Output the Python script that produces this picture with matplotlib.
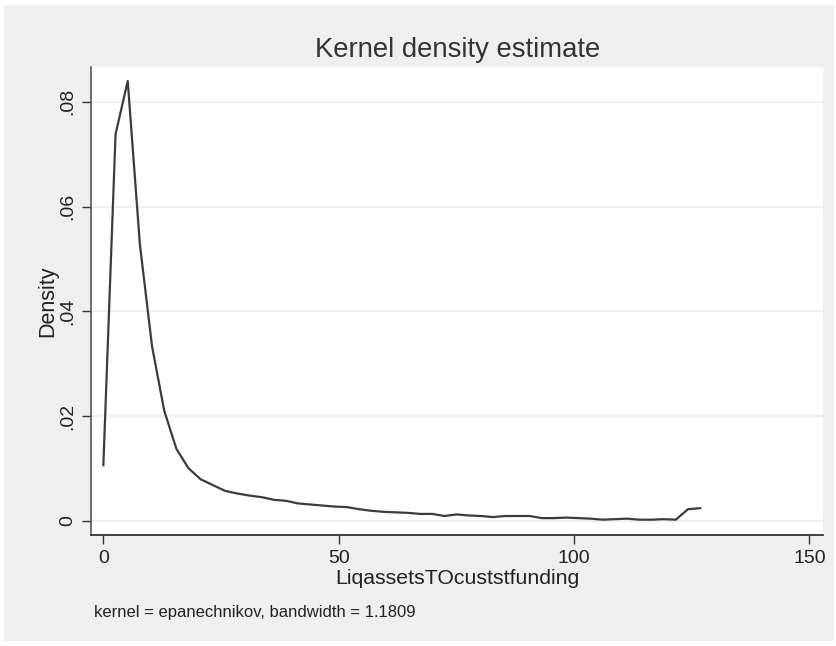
import matplotlib
matplotlib.use("Agg")
import matplotlib.pyplot as plt
from matplotlib.patches import Rectangle

plt.rcParams['font.family'] = ['Liberation Sans', 'DejaVu Sans']

# kdensity evaluation grid and density estimates
grid = [0.00, 2.59, 5.18, 7.76, 10.35, 12.94, 15.53, 18.11, 20.70, 23.29,
        25.88, 28.47, 31.05, 33.64, 36.23, 38.82, 41.40, 43.99, 46.58, 49.17,
        51.76, 54.34, 56.93, 59.52, 62.11, 64.69, 67.28, 69.87, 72.46, 75.04,
        77.63, 80.22, 82.81, 85.40, 87.98, 90.57, 93.16, 95.75, 98.33, 100.92,
        103.51, 106.10, 108.69, 111.27, 113.86, 116.45, 119.04, 121.62, 124.21, 126.80]
density = [0.0106, 0.0738, 0.0840, 0.0528, 0.0333, 0.0210, 0.0137, 0.0100, 0.0079, 0.0068,
           0.0057, 0.0052, 0.0048, 0.0045, 0.0040, 0.0038, 0.0033, 0.0031, 0.0029, 0.0027,
           0.0026, 0.0022, 0.0019, 0.0017, 0.0016, 0.0015, 0.0013, 0.0013, 0.0009, 0.0012,
           0.0010, 0.0009, 0.0007, 0.0009, 0.0009, 0.0009, 0.0005, 0.0005, 0.0006, 0.0005,
           0.0004, 0.0002, 0.0003, 0.0004, 0.0002, 0.0002, 0.0003, 0.0002, 0.0022, 0.0024]

xticks = [0, 50, 100, 150]
yticks = [0, 0.02, 0.04, 0.06, 0.08]
ytick_labels = ['0', '.02', '.04', '.06', '.08']

bg = '#efefef'
ink = '#333333'

fig = plt.figure(figsize=(8.37, 6.46), dpi=100, facecolor='white')
fig.patches.append(Rectangle((4 / 837, 5 / 646), 830 / 837, 636 / 646,
                             transform=fig.transFigure, facecolor=bg,
                             edgecolor='none', zorder=-1))

ax = fig.add_axes([0.1084, 0.1718, 0.8749, 0.7245])
ax.set_zorder(2)
ax.set_facecolor('white')

ax.plot(grid, density, color='#3c3c3c', lw=1.6, zorder=3)

ax.set_xlim(-2.68, 152.9)
ax.set_ylim(-0.00273, 0.08667)
ax.set_xticks(xticks)
ax.set_yticks(yticks)
ax.set_yticklabels(ytick_labels, rotation=90, va='center')

ax.grid(axis='y', color=bg, lw=1.6, zorder=1)
ax.grid(axis='x', visible=False)

for side in ('top', 'right'):
    ax.spines[side].set_visible(False)
ax.spines['left'].set_color('#555555')
ax.spines['bottom'].set_color('#222222')
for side in ('left', 'bottom'):
    ax.spines[side].set_linewidth(1.2)

ax.tick_params(axis='both', direction='out', length=6.5, width=1.0,
               color=ink, labelcolor='#222222', labelsize=14)
ax.tick_params(axis='x', pad=4.5)
ax.tick_params(axis='y', pad=4)

ax.set_xlabel('LiqassetsTOcuststfunding', fontsize=15.3, color='#222222', labelpad=1)
ax.set_ylabel('Density', fontsize=15.5, color='#222222', labelpad=1)

fig.text(458 / 837, (646 - 56.7) / 646, 'Kernel density estimate',
         ha='center', va='baseline', fontsize=19.8, color=ink)
fig.text(94 / 837, (646 - 612) / 646, 'kernel = epanechnikov, bandwidth = 1.1809',
         ha='left', va='center', fontsize=12, color='#222222')

fig.savefig('out.png', dpi=100, facecolor=fig.get_facecolor())
